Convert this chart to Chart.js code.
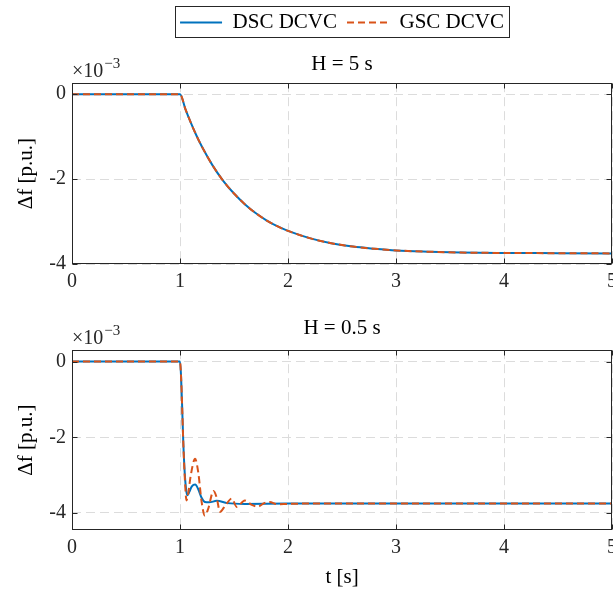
<!DOCTYPE html>
<html lang="en">
<head>
<meta charset="UTF-8">
<style>
body {
    margin: 0;
    background: #fff;
}
.panel {
    position: absolute;
    left: 0;
    width: 613px;
}
</style>
</head>
<body>
<div class="panel" style="top:0;height:300px;"><canvas id="topChart"></canvas></div>
<div class="panel" style="top:300px;height:294px;"><canvas id="bottomChart"></canvas></div>
<script src="https://cdn.jsdelivr.net/npm/chart.js"></script>
<script>
// values in units of 1e-3 p.u.
const seriesNames = ['DSC DCVC', 'GSC DCVC'];
const seriesColors = ['#0072BD', '#D95319'];
const xTicks = [0, 1, 2, 3, 4, 5];
const yTicks = [0, -2, -4];

// H = 5 s
const tTop = [0, 1.0, 1.05, 1.1, 1.15, 1.2, 1.3, 1.4, 1.5, 1.6, 1.7, 1.8, 1.9, 2.0, 2.2, 2.4, 2.6, 2.8, 3.0, 3.3, 3.6, 4.0, 4.5, 5.0];
const dscTop = [0, 0, -0.35, -0.67, -0.96, -1.22, -1.67, -2.04, -2.34, -2.59, -2.80, -2.97, -3.11, -3.22, -3.39, -3.51, -3.59, -3.64, -3.68, -3.71, -3.73, -3.74, -3.745, -3.75];
const gscTop = [0, 0, -0.35, -0.67, -0.96, -1.22, -1.67, -2.04, -2.34, -2.59, -2.80, -2.97, -3.11, -3.22, -3.39, -3.51, -3.59, -3.64, -3.68, -3.71, -3.73, -3.74, -3.745, -3.75];

// H = 0.5 s
const tBotDsc = [0, 1.0, 1.01, 1.02, 1.03, 1.045, 1.06, 1.07, 1.085, 1.11, 1.14, 1.17, 1.2, 1.23, 1.27, 1.34, 1.44, 1.6, 2.0, 5.0];
const dscBot = [0, 0, -0.4, -1.2, -2.1, -3.0, -3.45, -3.53, -3.45, -3.3, -3.25, -3.38, -3.6, -3.71, -3.72, -3.68, -3.74, -3.76, -3.75, -3.75];
const tBotGsc = [0, 1.0, 1.01, 1.02, 1.03, 1.045, 1.06, 1.075, 1.1, 1.14, 1.17, 1.2, 1.23, 1.26, 1.31, 1.34, 1.37, 1.42, 1.48, 1.525, 1.6, 1.66, 1.72, 1.78, 1.83, 1.9, 2.0, 2.2, 5.0];
const gscBot = [0, 0, -0.4, -1.2, -2.1, -3.1, -3.67, -3.5, -3.0, -2.57, -2.95, -3.7, -4.07, -3.9, -3.42, -3.6, -3.97, -3.8, -3.62, -3.84, -3.67, -3.78, -3.83, -3.74, -3.71, -3.77, -3.76, -3.75, -3.75];

Chart.defaults.font.family = '"Liberation Serif", serif';
Chart.defaults.color = '#262626';

const axisColor = '#262626';

function pts(xs, ys) {
    return xs.map((x, i) => ({x: x, y: ys[i]}));
}

function makeDatasets(xa, ya, xb, yb) {
    return [{
        label: seriesNames[0],
        data: pts(xa, ya),
        borderColor: seriesColors[0],
        backgroundColor: seriesColors[0],
        borderWidth: 2,
        pointRadius: 0,
        cubicInterpolationMode: 'monotone',
        order: 1
    }, {
        label: seriesNames[1],
        data: pts(xb, yb),
        borderColor: seriesColors[1],
        backgroundColor: seriesColors[1],
        borderWidth: 2,
        borderDash: [7, 4],
        pointRadius: 0,
        cubicInterpolationMode: 'monotone',
        order: 0
    }];
}

// legend items in dataset order, with the line dash of each dataset
function legendLabels(chart) {
    const items = Chart.defaults.plugins.legend.labels.generateLabels(chart);
    items.sort((a, b) => a.datasetIndex - b.datasetIndex);
    return items.map(it => {
        const ds = chart.data.datasets[it.datasetIndex];
        it.lineDash = ds.borderDash || [];
        it.lineWidth = ds.borderWidth;
        it.strokeStyle = ds.borderColor;
        it.fillStyle = ds.borderColor;
        return it;
    });
}

// box around the axes, inward ticks and the x10^-3 multiplier
const framePlugin = {
    id: 'frame',
    afterDraw(chart) {
        const ctx = chart.ctx;
        const a = chart.chartArea;
        const xs = chart.scales.x, ys = chart.scales.y;
        const L = Math.round(a.left) + 0.5, R = Math.round(a.right) - 0.5;
        const T = Math.round(a.top) + 0.5, B = Math.round(a.bottom) - 0.5;
        ctx.save();
        ctx.strokeStyle = axisColor;
        ctx.lineWidth = 1;
        ctx.beginPath();
        xTicks.forEach(v => {
            const px = Math.round(xs.getPixelForValue(v)) + 0.5;
            ctx.moveTo(px, B); ctx.lineTo(px, B - 5);
            ctx.moveTo(px, T); ctx.lineTo(px, T + 5);
        });
        yTicks.forEach(v => {
            const py = Math.round(ys.getPixelForValue(v)) + 0.5;
            ctx.moveTo(L, py); ctx.lineTo(L + 5, py);
            ctx.moveTo(R, py); ctx.lineTo(R - 5, py);
        });
        ctx.stroke();
        ctx.strokeRect(L, T, R - L, B - T);

        ctx.fillStyle = axisColor;
        ctx.textBaseline = 'alphabetic';
        ctx.font = '20px "Liberation Serif", serif';
        ctx.fillText('\u00d710', a.left, a.top - 6);
        const w = ctx.measureText('\u00d710').width;
        ctx.font = '15px "Liberation Serif", serif';
        ctx.fillText('\u22123', a.left + w + 1, a.top - 15);
        ctx.restore();
    }
};

const legendBoxPlugin = {
    id: 'legendBox',
    afterDraw(chart) {
        const lg = chart.legend;
        if (!lg || !lg.legendHitBoxes || !lg.legendHitBoxes.length) return;
        const hb = lg.legendHitBoxes;
        let x0 = Infinity, x1 = -Infinity, y0 = Infinity, y1 = -Infinity;
        hb.forEach(b => {
            x0 = Math.min(x0, b.left); x1 = Math.max(x1, b.left + b.width);
            y0 = Math.min(y0, b.top); y1 = Math.max(y1, b.top + b.height);
        });
        const ctx = chart.ctx;
        ctx.save();
        ctx.strokeStyle = axisColor;
        ctx.lineWidth = 1;
        ctx.strokeRect(Math.round(x0 - 5) + 0.5, Math.round(y0 - 6) + 0.5, Math.round(x1 - x0 + 10), Math.round(y1 - y0 + 10));
        ctx.restore();
    }
};

function makeOptions(cfg) {
    return {
        responsive: true,
        maintainAspectRatio: false,
        animation: false,
        layout: {padding: {top: cfg.padTop, right: 1, left: 0, bottom: 0}},
        scales: {
            x: {
                type: 'linear',
                min: 0,
                max: 5,
                afterFit: s => { s.height = cfg.xHeight; s.paddingLeft = 0; s.paddingRight = 0; },
                ticks: {stepSize: 1, padding: 6, color: axisColor, font: {size: 20}, maxRotation: 0},
                grid: {color: '#dcdcdc', lineWidth: 1, drawTicks: false},
                border: {display: false, dash: [9, 5]},
                title: {
                    display: cfg.xTitle,
                    text: 't [s]',
                    color: '#000',
                    font: {size: 21},
                    padding: {top: 9}
                }
            },
            y: {
                min: cfg.yMin,
                max: cfg.yMax,
                afterFit: s => { s.width = 72; },
                ticks: {stepSize: 2, includeBounds: false, padding: 6, color: axisColor, font: {size: 20}},
                grid: {color: '#dcdcdc', lineWidth: 1, drawTicks: false},
                border: {display: false, dash: [9, 5]},
                title: {
                    display: true,
                    text: '\u0394f [p.u.]',
                    color: '#000',
                    font: {size: 21},
                    padding: {top: 14, bottom: 0}
                }
            }
        },
        plugins: {
            legend: {
                display: cfg.legend,
                position: 'top',
                fullSize: false,
                weight: 3000,
                labels: {
                    usePointStyle: true,
                    pointStyle: 'line',
                    pointStyleWidth: 42,
                    padding: 10,
                    color: '#000',
                    font: {size: 21},
                    generateLabels: legendLabels
                }
            },
            title: {
                display: true,
                text: cfg.title,
                fullSize: false,
                color: '#000',
                font: {size: 21, weight: 'normal'},
                padding: cfg.titlePad
            },
            tooltip: {enabled: false}
        }
    };
}

new Chart(document.getElementById('topChart'), {
    type: 'line',
    data: {datasets: makeDatasets(tTop, dscTop, tTop, gscTop)},
    options: makeOptions({
        padTop: 2, xHeight: 36, yMin: -4, yMax: 0.26, legend: true, xTitle: false,
        title: 'H = 5 s', titlePad: {top: 9, bottom: 6}
    }),
    plugins: [framePlugin, legendBoxPlugin]
});

new Chart(document.getElementById('bottomChart'), {
    type: 'line',
    data: {datasets: makeDatasets(tBotDsc, dscBot, tBotGsc, gscBot)},
    options: makeOptions({
        padTop: 0, xHeight: 64, yMin: -4.45, yMax: 0.3, legend: false, xTitle: true,
        title: 'H = 0.5 s', titlePad: {top: 16, bottom: 9}
    }),
    plugins: [framePlugin]
});
</script>
</body>
</html>
